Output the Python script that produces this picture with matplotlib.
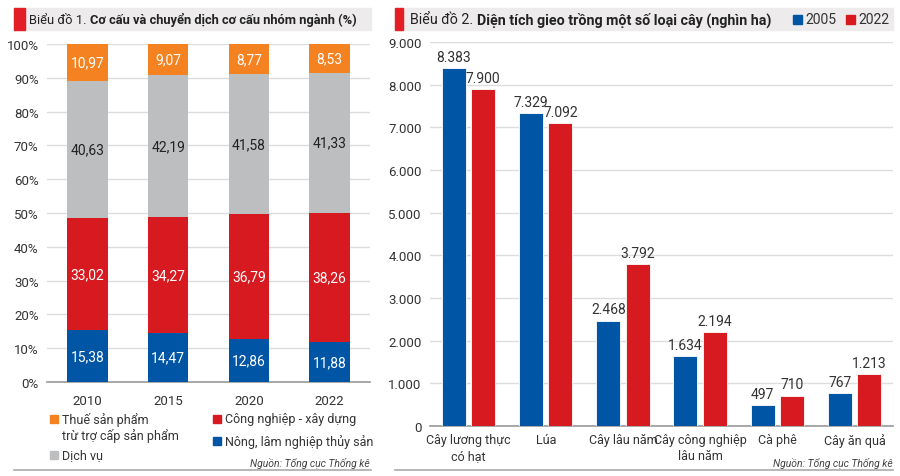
import matplotlib
matplotlib.use("Agg")
import matplotlib.pyplot as plt
from matplotlib import font_manager
from matplotlib.patches import Rectangle
import numpy as np

names = {f.name for f in font_manager.fontManager.ttflist}
NARROW = "Liberation Sans Narrow" if "Liberation Sans Narrow" in names else None
plt.rcParams['font.family'] = ['Roboto', 'DejaVu Sans']

# ---- Chart 1 data ----
years = ["2010", "2015", "2020", "2022"]
nong_lam = [15.38, 14.47, 12.86, 11.88]
cong_nghiep = [33.02, 34.27, 36.79, 38.26]
dich_vu = [40.63, 42.19, 41.58, 41.33]
thue = [10.97, 9.07, 8.77, 8.53]
pct_ticks = [0, 10, 20, 30, 40, 50, 60, 70, 80, 90, 100]

# ---- Chart 2 data ----
crops = ["Cây lương thực\ncó hạt", "Lúa", "Cây lâu năm", "Cây công nghiệp\nlâu năm", "Cà phê", "Cây ăn quả"]
area_2005 = [8383, 7329, 2468, 1634, 497, 767]
area_2022 = [7900, 7092, 3792, 2194, 710, 1213]
area_ticks = [0, 1000, 2000, 3000, 4000, 5000, 6000, 7000, 8000, 9000]

ORANGE = "#F58220"
GRAY = "#BCBEC0"
RED = "#D71920"
BLUE = "#0055A5"
TXT = "#333333"
GRID = "#DDDDDD"
BAND = "#EDEBEB"

W, H = 900, 477
fig = plt.figure(figsize=(9, 4.77), dpi=100)

def fx(x): return x / W
def fy(y): return 1 - y / H

def vn(v, dec=2):
    return f"{v:.{dec}f}".replace(".", ",")

def thousands(v):
    return f"{int(v):,}".replace(",", ".")

# Title bands
for x0, x1, xr in [(14, 371, 25), (395, 893, 403)]:
    fig.patches.append(Rectangle((fx(x0), fy(31)), fx(x1 - x0), (31 - 9) / H,
                                 transform=fig.transFigure, color=BAND, zorder=0))
    fig.patches.append(Rectangle((fx(x0), fy(31)), fx(xr - x0), (31 - 9) / H,
                                 transform=fig.transFigure, color="#E31E24", zorder=1))
for x0, x1 in [(14, 371), (395, 893)]:
    fig.add_artist(plt.Line2D([fx(x0), fx(x1)], [fy(471), fy(471)], color="#AAAAAA", lw=1.2,
                              transform=fig.transFigure))

r = fig.canvas.get_renderer()

def title(x0, x_end, pre, main):
    # fit the text into [x0, x_end] by picking a font size
    fam = [NARROW, 'Roboto'] if NARROW else ['Roboto']
    fs = 12.5
    while True:
        t1 = fig.text(fx(x0), fy(20), pre, fontsize=fs, color="#222222", va="center", family=fam)
        bb = t1.get_window_extent(r)
        t2 = fig.text(bb.x1 / W, fy(20), main, fontsize=fs, fontweight="bold",
                      color="#222222", va="center", family=fam)
        bb2 = t2.get_window_extent(r)
        if bb2.x1 <= x_end or fs < 8:
            return
        t1.remove(); t2.remove()
        fs -= 0.25

title(29, 363, "Biểu đồ 1. ", "Cơ cấu và chuyển dịch cơ cấu nhóm ngành (%)")
title(410, 778, "Biểu đồ 2. ", "Diện tích gieo trồng một số loại cây (nghìn ha)")

fig.patches.append(Rectangle((fx(793), fy(25)), fx(9), 9 / H, transform=fig.transFigure, color=BLUE))
fig.text(fx(805), fy(20), "2005", fontsize=10, color=TXT, va="center")
fig.patches.append(Rectangle((fx(846), fy(25)), fx(9), 9 / H, transform=fig.transFigure, color=RED))
fig.text(fx(858), fy(20), "2022", fontsize=10, color=TXT, va="center")

# ---- Axes 1 ----
ax1 = fig.add_axes([fx(47), fy(383), fx(370 - 47), (383 - 45) / H])
x = np.arange(len(years))
bw = 0.5
bottom = np.zeros(len(years))
series = [(nong_lam, BLUE, "white"), (cong_nghiep, RED, "white"),
          (dich_vu, GRAY, "#222222"), (thue, ORANGE, "white")]
for vals, col, tc in series:
    vals = np.array(vals)
    ax1.bar(x, vals, bw, bottom=bottom, color=col, zorder=3)
    for xi, b, v in zip(x, bottom, vals):
        ax1.text(xi, b + v / 2, vn(v), ha="center", va="center", color=tc, fontsize=10, zorder=4)
    bottom = bottom + vals
ax1.set_xlim(-0.5, len(years) - 0.5)
ax1.set_ylim(0, 100)
ax1.set_yticks(pct_ticks)
ax1.set_yticklabels([f"{t}%" for t in pct_ticks])
ax1.set_xticks(x)
ax1.set_xticklabels(years)
ax1.tick_params(axis="both", length=0, labelsize=9.5, colors=TXT)
ax1.tick_params(axis="y", pad=6)
ax1.tick_params(axis="x", pad=9)
ax1.grid(axis="y", color=GRID, lw=1, zorder=0)
for s in ["top", "right", "left"]:
    ax1.spines[s].set_visible(False)
ax1.spines["bottom"].set_color("#999999")
ax1.spines["bottom"].set_linewidth(1.2)

# Legend 1
leg_items = [(50, 420, ORANGE, "Thuế sản phẩm\ntrừ trợ cấp sản phẩm"),
             (213, 420, RED, "Công nghiệp - xây dựng"),
             (213, 442, BLUE, "Nông, lâm nghiệp thủy sản"),
             (50, 456, GRAY, "Dịch vụ")]
for lx, ly, col, lab in leg_items:
    fig.patches.append(Rectangle((fx(lx), fy(ly + 4)), fx(8), 8 / H, transform=fig.transFigure, color=col))
    fig.text(fx(lx + 12), fy(ly - 7), lab, fontsize=9, color=TXT, va="top", linespacing=1.2)

fig.text(fx(370), fy(464), "Nguồn: Tổng cục Thống kê", fontsize=7.5, style="italic",
         color="#444444", ha="right", va="center")
fig.text(fx(893), fy(464), "Nguồn: Tổng cục Thống kê", fontsize=7.5, style="italic",
         color="#444444", ha="right", va="center")

# ---- Axes 2 ----
ax2 = fig.add_axes([fx(430), fy(427), fx(893 - 430), (427 - 43) / H])
xc = np.arange(len(crops))
w2 = 0.31
off = 0.19
ax2.bar(xc - off, area_2005, w2, color=BLUE, edgecolor="white", lw=0.6, zorder=3)
ax2.bar(xc + off, area_2022, w2, color=RED, edgecolor="white", lw=0.6, zorder=3)
for xi, v in zip(xc, area_2005):
    ax2.text(xi - off, v + 100, thousands(v), ha="center", va="bottom", fontsize=10, color=TXT, zorder=4)
for xi, v in zip(xc, area_2022):
    ax2.text(xi + off, v + 100, thousands(v), ha="center", va="bottom", fontsize=10, color=TXT, zorder=4)
ax2.set_xlim(-0.5, len(crops) - 0.5)
ax2.set_ylim(0, 9000)
ax2.set_yticks(area_ticks)
ax2.set_yticklabels([thousands(t) for t in area_ticks])
ax2.set_xticks(xc)
ax2.set_xticklabels(crops, linespacing=1.3)
ax2.tick_params(axis="both", length=0, labelsize=9.5, colors=TXT)
ax2.tick_params(axis="x", labelsize=9)
ax2.tick_params(axis="y", pad=6)
ax2.tick_params(axis="x", pad=5)
ax2.grid(axis="y", color=GRID, lw=1, zorder=0)
for s in ["top", "right", "left"]:
    ax2.spines[s].set_visible(False)
ax2.spines["bottom"].set_color("#999999")
ax2.spines["bottom"].set_linewidth(1.2)

fig.savefig("out.png", dpi=100)
